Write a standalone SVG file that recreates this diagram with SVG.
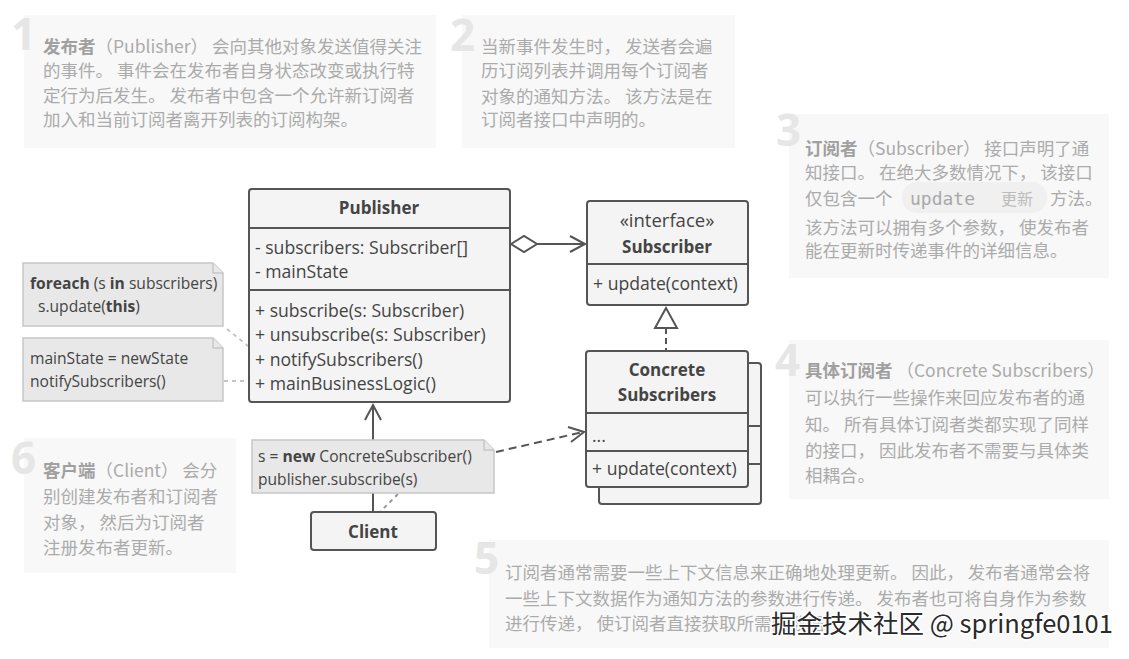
<svg xmlns="http://www.w3.org/2000/svg" width="1129" height="659" viewBox="0 0 1129 659">
<style>
.cbg{fill:#f8f8f8}
.num{font-family:"Noto Sans","Open Sans",sans-serif;font-weight:700;font-size:44px;fill:#e6e6e6}
.ct{font-family:"Noto Sans CJK SC",sans-serif;font-size:17.5px;fill:#ababab}
.ct .b{font-weight:700;fill:#a0a0a0}
.box{fill:#f4f4f4;stroke:#555;stroke-width:2}
.sep{stroke:#555;stroke-width:2;fill:none}
.t{font-family:"Open Sans",sans-serif;font-size:17.6px;fill:#444}
.tb{font-family:"Open Sans",sans-serif;font-size:17px;font-weight:700;fill:#444;text-anchor:middle}
.tc{font-family:"Open Sans",sans-serif;font-size:18.5px;fill:#444;text-anchor:middle}
.note{fill:#e8e8e8;stroke:#c6c6c6;stroke-width:1.5}
.nt{font-family:"Open Sans",sans-serif;font-size:15.6px;fill:#444}
.nt .b{font-weight:700}
.ln{stroke:#555;stroke-width:2;fill:none}
.dl{stroke:#c4c4c4;stroke-width:2;stroke-dasharray:4 4;fill:none}
.wm{font-family:"Noto Sans CJK SC","Liberation Sans",sans-serif;font-size:25.5px;fill:#2a2a2a;stroke:#ffffff;stroke-width:3;paint-order:stroke}
</style>
<rect width="1129" height="659" fill="#ffffff"/>

<g id="callout1">
<rect class="cbg" x="24" y="15" width="412" height="133"/>
<text class="num" x="11" y="50">1</text>
<text class="ct" x="43" y="53"><tspan class="b">发布者</tspan>（Publisher） 会向其他对象发送值得关注</text>
<text class="ct" x="43" y="77">的事件。 事件会在发布者自身状态改变或执行特</text>
<text class="ct" x="43" y="102">定行为后发生。 发布者中包含一个允许新订阅者</text>
<text class="ct" x="43" y="126">加入和当前订阅者离开列表的订阅构架。</text>
</g>

<g id="callout2">
<rect class="cbg" x="462" y="15" width="273" height="133"/>
<text class="num" x="450" y="51">2</text>
<text class="ct" x="481" y="53">当新事件发生时， 发送者会遍</text>
<text class="ct" x="481" y="77">历订阅列表并调用每个订阅者</text>
<text class="ct" x="481" y="103">对象的通知方法。 该方法是在</text>
<text class="ct" x="481" y="126">订阅者接口中声明的。</text>
</g>

<g id="callout3">
<rect class="cbg" x="789" y="114" width="320" height="164"/>
<text class="num" x="776" y="146">3</text>
<text class="ct" x="805" y="155"><tspan class="b">订阅者</tspan>（Subscriber） 接口声明了通</text>
<text class="ct" x="805" y="179">知接口。 在绝大多数情况下， 该接口</text>
<rect x="902" y="182" width="145" height="31" rx="15" fill="#f0f0f0"/>
<text class="ct" x="805" y="205">仅包含一个</text>
<text x="910" y="205" font-family="'DejaVu Sans Mono','Liberation Mono',monospace" font-size="18" fill="#a8a8a8">update</text>
<text class="ct" x="1001" y="205" style="fill:#bcbcbc;font-size:16px">更新</text>
<text class="ct" x="1050" y="205">方法。</text>
<text class="ct" x="805" y="234">该方法可以拥有多个参数， 使发布者</text>
<text class="ct" x="805" y="257">能在更新时传递事件的详细信息。</text>
</g>

<g id="callout4">
<rect class="cbg" x="789" y="340" width="320" height="159"/>
<text class="num" x="775" y="376">4</text>
<text class="ct" x="805" y="377"><tspan class="b">具体订阅者</tspan> （Concrete Subscribers）</text>
<text class="ct" x="805" y="404">可以执行一些操作来回应发布者的通</text>
<text class="ct" x="805" y="431">知。 所有具体订阅者类都实现了同样</text>
<text class="ct" x="805" y="457">的接口， 因此发布者不需要与具体类</text>
<text class="ct" x="805" y="482">相耦合。</text>
</g>

<g id="callout5">
<rect class="cbg" x="489" y="540" width="620" height="108"/>
<text class="num" x="474" y="574">5</text>
<text class="ct" x="505" y="579">订阅者通常需要一些上下文信息来正确地处理更新。 因此， 发布者通常会将</text>
<text class="ct" x="505" y="605">一些上下文数据作为通知方法的参数进行传递。 发布者也可将自身作为参数</text>
<text class="ct" x="505" y="630">进行传递， 使订阅者直接获取所需的数据。</text>
</g>

<g id="callout6">
<rect class="cbg" x="24" y="438" width="212" height="135"/>
<text class="num" x="11" y="474">6</text>
<text class="ct" x="43" y="477"><tspan class="b">客户端</tspan>（Client） 会分</text>
<text class="ct" x="43" y="503">别创建发布者和订阅者</text>
<text class="ct" x="43" y="529">对象， 然后为订阅者</text>
<text class="ct" x="43" y="554">注册发布者更新。</text>
</g>

<g id="connectors">
<line class="dl" x1="227" y1="329" x2="248" y2="346"/>
<line class="dl" x1="224" y1="381" x2="248" y2="381"/>
<path class="ln" d="M511,244 L524,236 L537,244 L524,252 Z" fill="#ffffff"/>
<line class="ln" x1="537" y1="244" x2="585" y2="244"/>
<path class="ln" d="M570,236 L585,244 L570,252"/>
<line class="ln" x1="666" y1="328" x2="666" y2="351" stroke-dasharray="6 4"/>
<path class="ln" d="M666,308 L655,328 L677,328 Z" fill="#ffffff"/>
<line class="ln" x1="373" y1="512" x2="373" y2="405"/>
<path class="ln" d="M365,420 L373,405 L381,420"/>
<line class="ln" x1="496" y1="452" x2="583" y2="432" stroke-dasharray="8 5"/>
<path class="ln" d="M568,427 L584,432 L571,442"/>
<line class="dl" x1="398" y1="494" x2="380" y2="512" style="stroke:#999"/>
</g>

<g id="publisher">
<rect class="box" x="249" y="189" width="261" height="213" rx="3"/>
<line class="sep" x1="249" y1="228" x2="510" y2="228"/>
<line class="sep" x1="249" y1="290" x2="510" y2="290"/>
<text class="tb" x="379" y="214">Publisher</text>
<text class="t" x="255" y="254">- subscribers: Subscriber[]</text>
<text class="t" x="255" y="278">- mainState</text>
<text class="t" x="255" y="317">+ subscribe(s: Subscriber)</text>
<text class="t" x="255" y="341">+ unsubscribe(s: Subscriber)</text>
<text class="t" x="255" y="366">+ notifySubscribers()</text>
<text class="t" x="255" y="390">+ mainBusinessLogic()</text>
</g>

<g id="note-foreach">
<path class="note" d="M23,263 H213 L223,273 V326 H23 Z"/>
<path class="note" d="M213,263 V273 H223" fill="none"/>
<text class="nt" x="30" y="289"><tspan class="b">foreach</tspan> (s <tspan class="b">in</tspan> subscribers)</text>
<text class="nt" x="38" y="312">s.update(<tspan class="b">this</tspan>)</text>
</g>

<g id="note-mainstate">
<path class="note" d="M23,338 H213 L223,348 V401 H23 Z"/>
<path class="note" d="M213,338 V348 H223" fill="none"/>
<text class="nt" x="30" y="364">mainState = newState</text>
<text class="nt" x="30" y="387">notifySubscribers()</text>
</g>

<g id="subscriber">
<rect class="box" x="587" y="201" width="161" height="104" rx="3"/>
<line class="sep" x1="587" y1="264" x2="748" y2="264"/>
<text class="tc" x="667" y="227">«interface»</text>
<text class="tb" x="667" y="253">Subscriber</text>
<text class="t" x="593" y="290">+ update(context)</text>
</g>

<g id="concrete-subscribers">
<rect class="box" x="599" y="363" width="162" height="141" rx="3"/>
<line class="sep" x1="748" y1="426" x2="761" y2="426"/>
<line class="sep" x1="748" y1="464" x2="761" y2="464"/>
<rect class="box" x="586" y="351" width="162" height="136" rx="3"/>
<line class="sep" x1="586" y1="413" x2="748" y2="413"/>
<line class="sep" x1="586" y1="451" x2="748" y2="451"/>
<text class="tb" x="667" y="376">Concrete</text>
<text class="tb" x="667" y="401">Subscribers</text>
<text class="t" x="592" y="442">...</text>
<text class="t" x="592" y="475">+ update(context)</text>
</g>

<g id="note-client">
<path class="note" d="M252,440 H484 L494,450 V493 H252 Z"/>
<path class="note" d="M484,440 V450 H494" fill="none"/>
<text class="nt" x="258" y="462">s = <tspan class="b">new</tspan> ConcreteSubscriber()</text>
<text class="nt" x="258" y="485">publisher.subscribe(s)</text>
</g>

<g id="client">
<rect class="box" x="311" y="512" width="125" height="38" rx="3"/>
<text class="tb" x="373" y="538">Client</text>
</g>

<text class="wm" x="771" y="633">掘金技术社区 @ springfe0101</text>
</svg>
